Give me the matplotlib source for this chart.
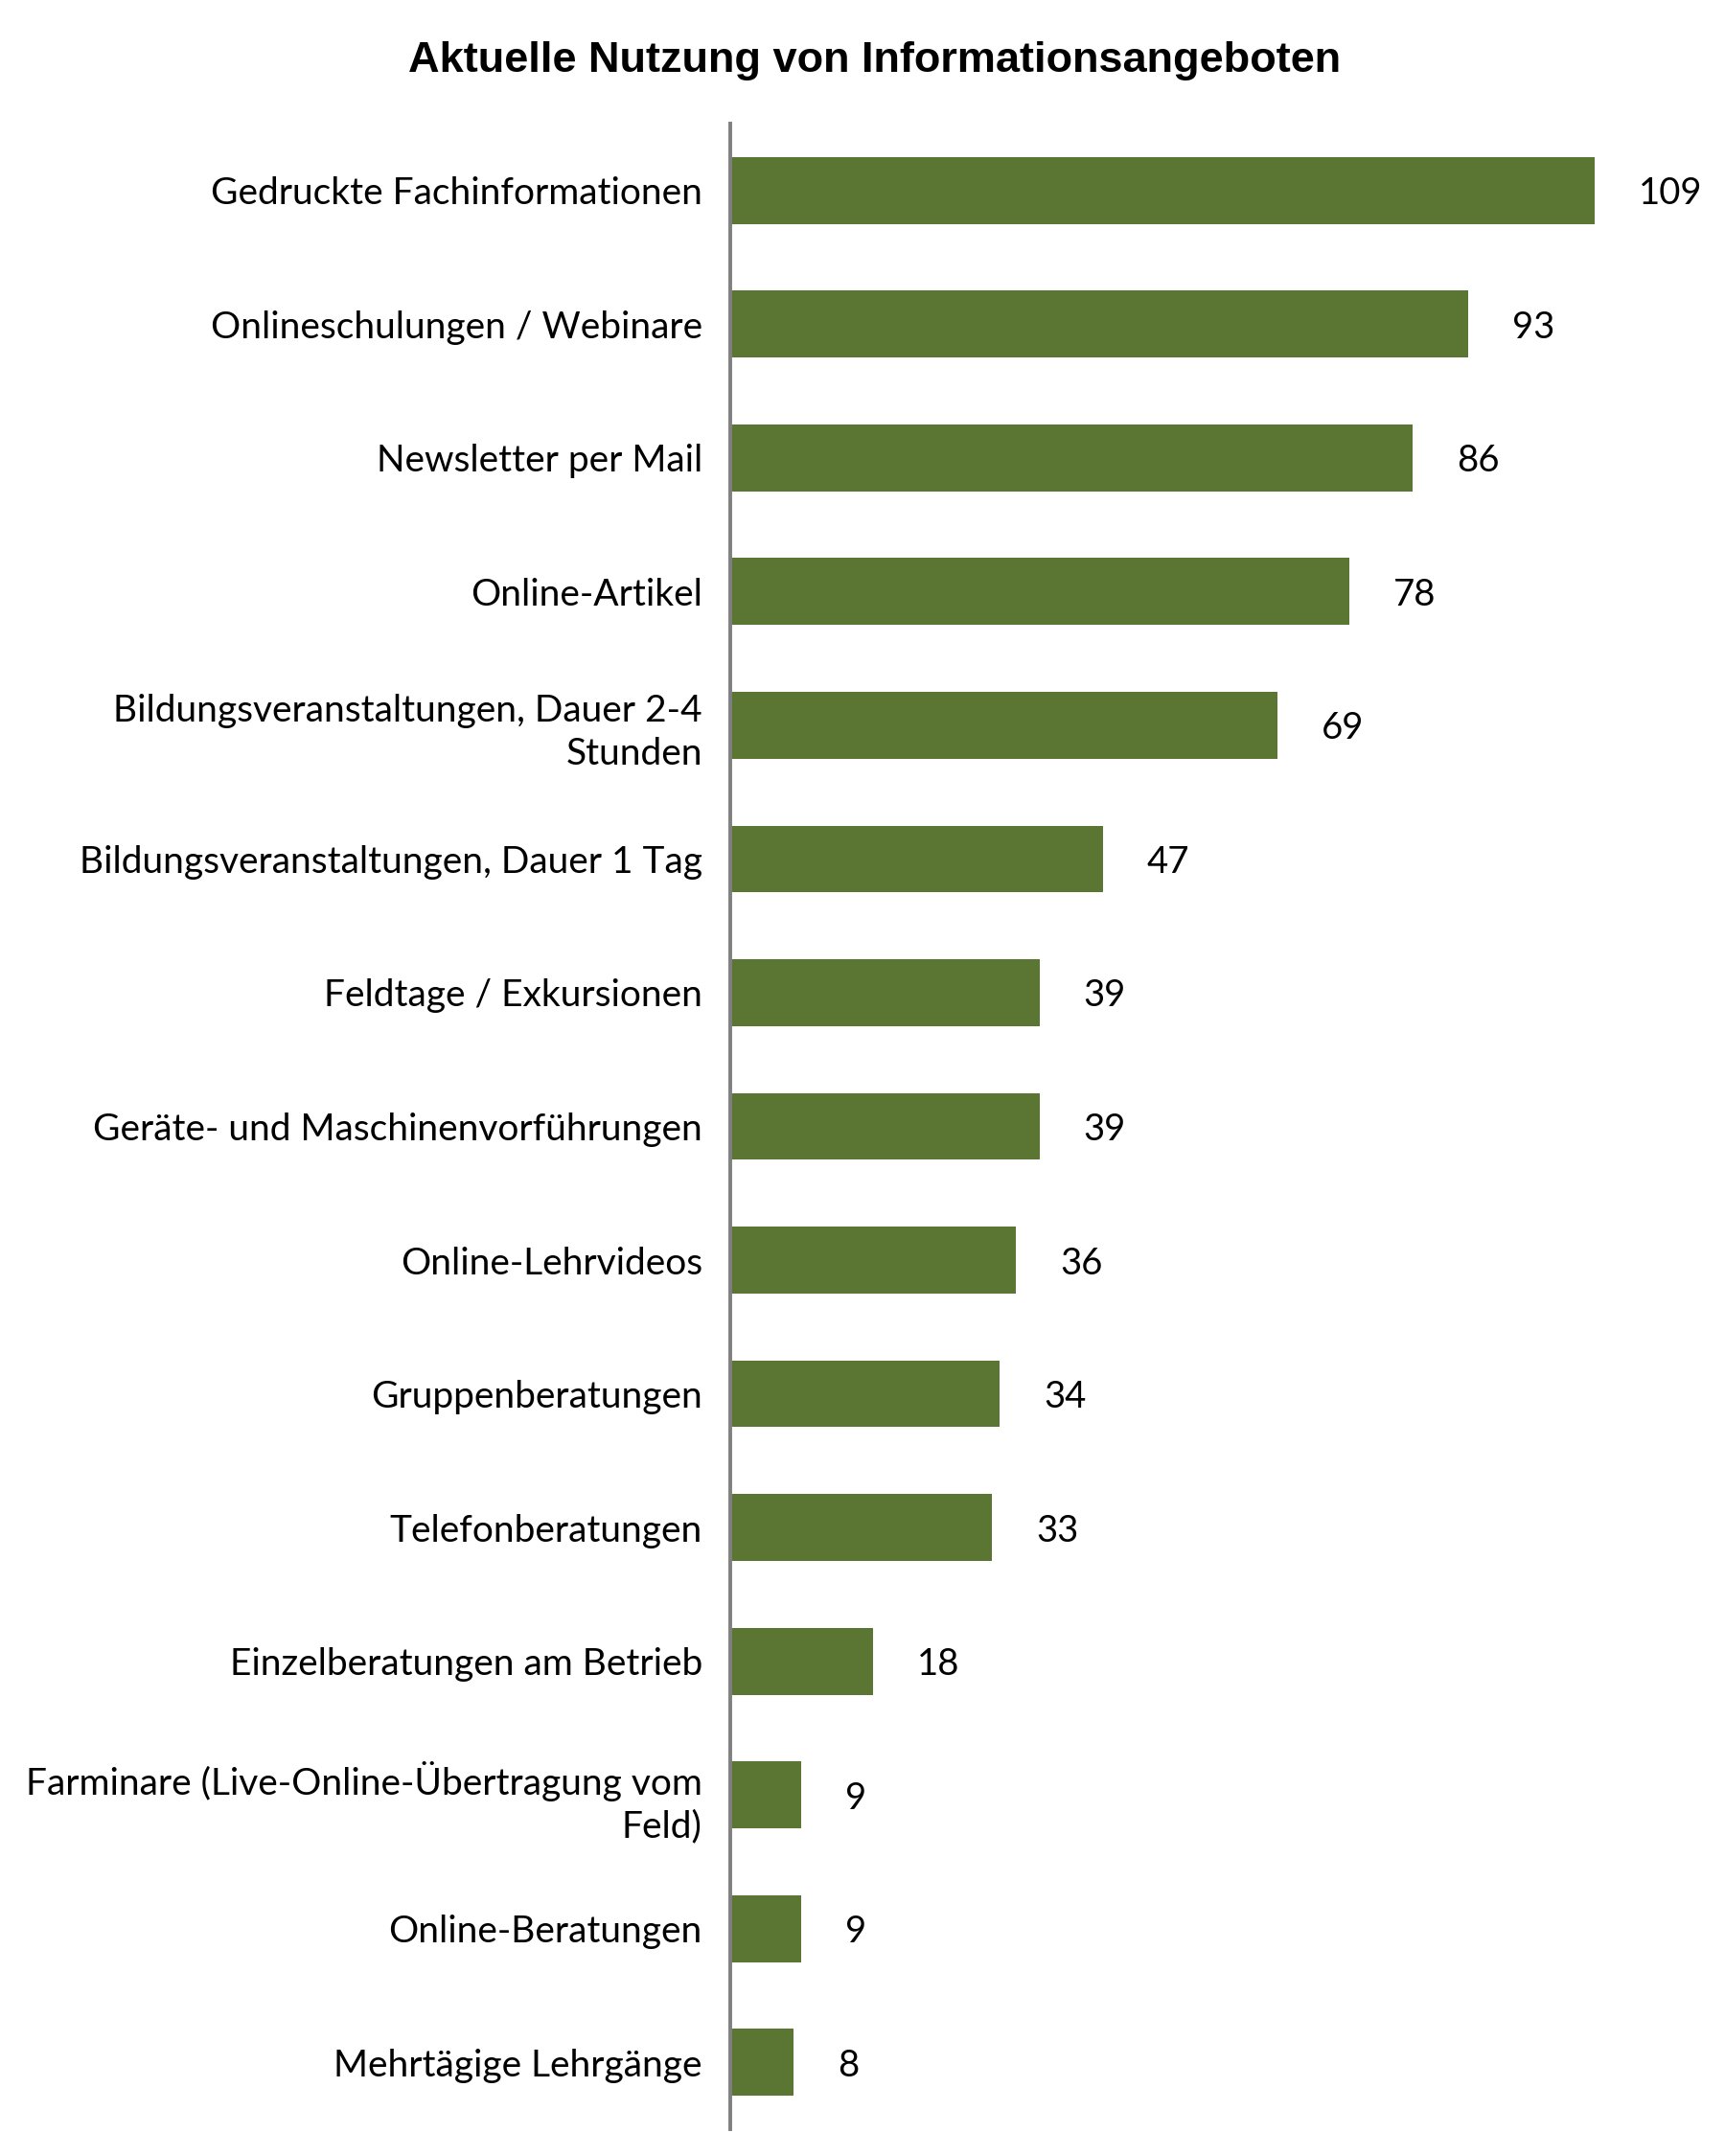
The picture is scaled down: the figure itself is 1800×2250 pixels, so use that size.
import matplotlib
matplotlib.use("Agg")
import matplotlib.pyplot as plt

# Daten (von oben nach unten)
kategorien = [
    "Gedruckte Fachinformationen",
    "Onlineschulungen / Webinare",
    "Newsletter per Mail",
    "Online-Artikel",
    "Bildungsveranstaltungen, Dauer 2-4\nStunden",
    "Bildungsveranstaltungen, Dauer 1 Tag",
    "Feldtage / Exkursionen",
    "Geräte- und Maschinenvorführungen",
    "Online-Lehrvideos",
    "Gruppenberatungen",
    "Telefonberatungen",
    "Einzelberatungen am Betrieb",
    "Farminare (Live-Online-Übertragung vom\nFeld)",
    "Online-Beratungen",
    "Mehrtägige Lehrgänge",
]
werte = [109, 93, 86, 78, 69, 47, 39, 39, 36, 34, 33, 18, 9, 9, 8]

GRUEN = "#5B7532"
GRAU = "#808080"

fig = plt.figure(figsize=(18, 22.5), dpi=100)
ax = fig.add_axes([0.4233, 0.0124, 0.53, 0.9303])

pos = list(range(len(werte)))
ax.barh(pos, werte, height=0.5, color=GRUEN, zorder=2)
ax.set_ylim(len(werte) - 0.5, -0.5)
ax.set_xlim(0, (1716 - 762) / 8.28)

for p, w in zip(pos, werte):
    ax.annotate(str(w), xy=(w, p), xytext=(33, -2.5), textcoords="offset points",
                ha="left", va="center", fontsize=27.5, family="Lato",
                color="black", annotation_clip=False)

ax.set_yticks(pos)
ax.set_yticklabels(kategorien, fontsize=28, family="Lato", linespacing=1.3)
ax.tick_params(axis="y", length=0, pad=21)
ax.set_xticks([])

for s in ["top", "right", "bottom"]:
    ax.spines[s].set_visible(False)
ax.spines["left"].set_color(GRAU)
ax.spines["left"].set_linewidth(2.8)
ax.spines["left"].set_zorder(3)

fig.text(0.507, 0.9718, "Aktuelle Nutzung von Informationsangeboten",
         ha="center", va="center", fontsize=32.5, fontweight="bold",
         family="Liberation Sans")

fig.savefig("out.png", dpi=100)
